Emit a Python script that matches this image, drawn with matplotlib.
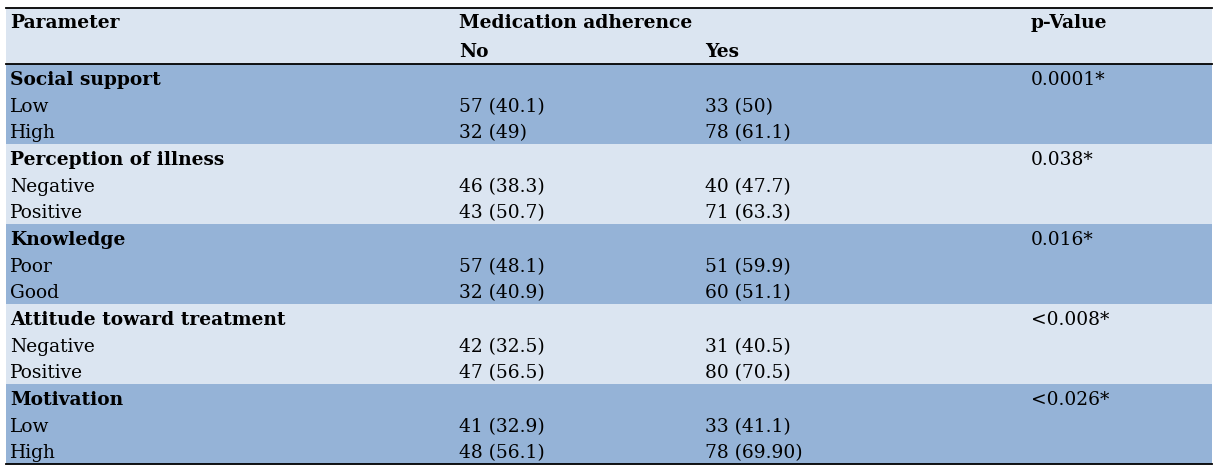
import matplotlib
matplotlib.use("Agg")
import matplotlib.pyplot as plt
from matplotlib.patches import Rectangle

# table content
groups = ["Social support", "Perception of illness", "Knowledge",
          "Attitude toward treatment", "Motivation"]
levels = [["Low", "High"], ["Negative", "Positive"], ["Poor", "Good"],
          ["Negative", "Positive"], ["Low", "High"]]
no_vals = [["57 (40.1)", "32 (49)"], ["46 (38.3)", "43 (50.7)"],
           ["57 (48.1)", "32 (40.9)"], ["42 (32.5)", "47 (56.5)"],
           ["41 (32.9)", "48 (56.1)"]]
yes_vals = [["33 (50)", "78 (61.1)"], ["40 (47.7)", "71 (63.3)"],
            ["51 (59.9)", "60 (51.1)"], ["31 (40.5)", "80 (70.5)"],
            ["33 (41.1)", "78 (69.90)"]]
p_vals = ["0.0001*", "0.038*", "0.016*", "<0.008*", "<0.026*"]
headers = ["Parameter", "Medication adherence", "p-Value"]
subheaders = ["No", "Yes"]

light = "#DBE5F1"
dark = "#95B3D7"
W, H = 1219, 471
left, right = 6, 1212
top, head_bot = 8, 64
block_h = 80
row_h = 26.6
col_x = [10, 459, 705, 1031]
fs = 13.4
font = "DejaVu Serif"

fig = plt.figure(figsize=(W / 100, H / 100), dpi=100)
ax = fig.add_axes([0, 0, 1, 1])
ax.set_xlim(0, W)
ax.set_ylim(H, 0)
ax.axis("off")

def txt(x, y, s, bold=False):
    ax.text(x, y, s, ha="left", va="center", fontsize=fs, family=font,
            fontweight="bold" if bold else "normal", color="black")

# header
ax.add_patch(Rectangle((left, top), right - left, head_bot - top, color=light, lw=0))
txt(col_x[0], 23, headers[0], True)
txt(col_x[1], 23, headers[1], True)
txt(col_x[3], 23, headers[2], True)
txt(col_x[1], 52, subheaders[0], True)
txt(col_x[2], 52, subheaders[1], True)

for g in range(len(groups)):
    y0 = head_bot + g * block_h
    ax.add_patch(Rectangle((left, y0), right - left, block_h,
                           color=dark if g % 2 == 0 else light, lw=0))
    yc = y0 + 16
    txt(col_x[0], yc, groups[g], True)
    txt(col_x[3], yc, p_vals[g])
    for k in range(2):
        yr = yc + (k + 1) * row_h
        txt(col_x[0], yr, levels[g][k])
        txt(col_x[1], yr, no_vals[g][k])
        txt(col_x[2], yr, yes_vals[g][k])

bottom = head_bot + len(groups) * block_h
for y in (top, head_bot, bottom):
    ax.plot([left, right], [y, y], color="black", lw=1.3)

fig.savefig("out.png", dpi=100)
